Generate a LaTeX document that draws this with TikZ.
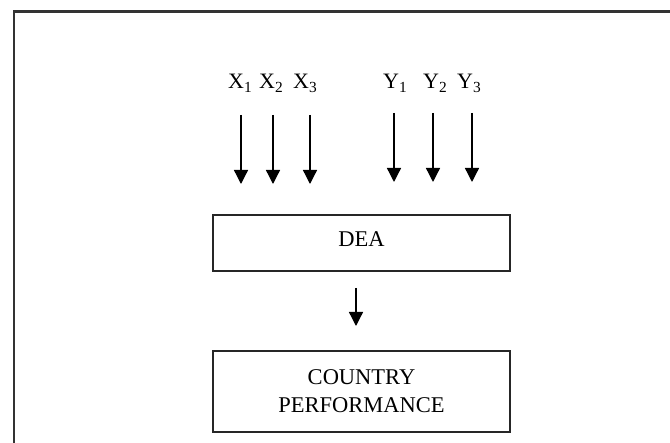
\documentclass[tikz,border=0pt]{standalone}
\usepackage{fontspec}
\setmainfont{Liberation Serif}
\usetikzlibrary{arrows.meta}
\begin{document}
\begin{tikzpicture}[x=1pt,y=-1pt,
  box/.style={draw=black!85,line width=1.6pt,minimum width=297pt,inner sep=0pt,align=center,font=\fontsize{22.5}{28}\selectfont},
  lab/.style={inner sep=0pt,anchor=base west,font=\fontsize{22}{26}\selectfont},
  arr/.style={line width=1.3pt,-{Triangle[width=14pt,length=14pt]}}]
\useasboundingbox (0,0) rectangle (670,443);
\draw[line width=2.2pt,black!80] (14,443) -- (14,11.5) -- (670,11.5);
\node[lab] (x1l) at (228,89) {X\textsubscript{1}};
\node[lab] (x2l) at (259,89) {X\textsubscript{2}};
\node[lab] (x3l) at (293,89) {X\textsubscript{3}};
\node[lab] (y1l) at (383,89) {Y\textsubscript{1}};
\node[lab] (y2l) at (423,89) {Y\textsubscript{2}};
\node[lab] (y3l) at (457,89) {Y\textsubscript{3}};
\foreach \n/\x/\t/\b in {x1/241/115/184,x2/273/115/184,x3/310/115/184,y1/394/113/182,y2/433/113/182,y3/472/113/182}{
  \coordinate (\n s) at (\x,\t);
  \coordinate (\n e) at (\x,\b);
  \draw[arr] (\n s) -- (\n e);
}
\node[box,minimum height=56pt,text depth=8.6pt] (dea) at (361.5,243) {DEA};
\node[box,minimum height=81pt] (cp) at (361.5,391.5) {COUNTRY\\PERFORMANCE};
\coordinate (ds) at (356,288);
\coordinate (de) at (356,326);
\draw[arr] (ds) -- (de);
\end{tikzpicture}
\end{document}
